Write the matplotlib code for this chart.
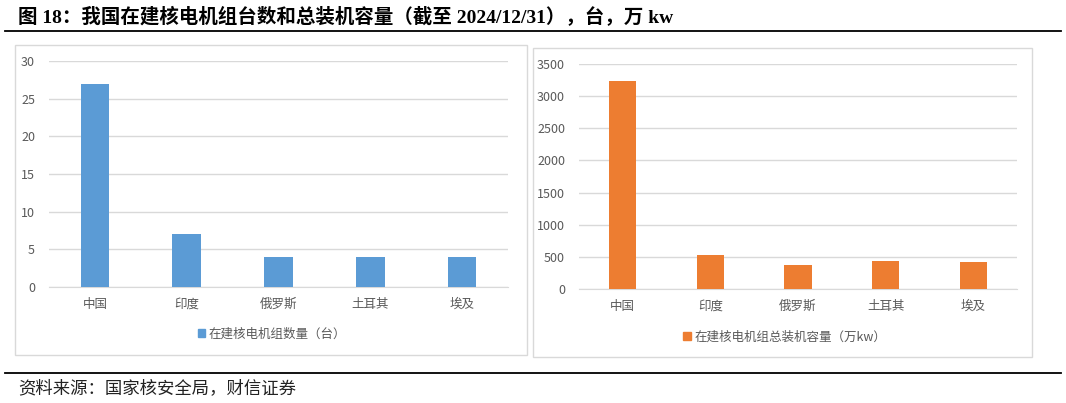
import matplotlib
matplotlib.use('Agg')
from matplotlib import pyplot as plt
from matplotlib.patches import Rectangle, Patch
from matplotlib.lines import Line2D

plt.rcParams['font.family'] = ['Noto Sans CJK SC', 'DejaVu Sans']

countries = ['中国', '印度', '俄罗斯', '土耳其', '埃及']
units = [27, 7, 4, 4, 4]
capacity = [3230, 530, 375, 440, 425]

title = '图 18：我国在建核电机组台数和总装机容量（截至 2024/12/31），台，万 kw'
source = '资料来源：国家核安全局，财信证券'
label_units = '在建核电机组数量（台）'
label_cap = '在建核电机组总装机容量（万kw）'

W, H = 1066, 403
fig = plt.figure(figsize=(W / 100, H / 100), dpi=100)


def fx(px):
    return px / W


def fy(py):
    return 1 - py / H


# title and rules
fig.text(fx(18), fy(17), title, fontsize=14, fontweight='bold', va='center', ha='left',
         family=['Liberation Serif', 'Noto Sans CJK SC'])
fig.add_artist(Line2D([fx(5), fx(1061)], [fy(31), fy(31)], color='black', lw=1.3))
fig.add_artist(Line2D([fx(5), fx(1061)], [fy(373), fy(373)], color='black', lw=1.3))
fig.text(fx(18), fy(388), source, fontsize=12.5, style='italic', va='center', ha='left', color='#222222')

# panel frames
for x0, y0, x1, y1 in [(15, 45, 527, 355), (533, 48, 1032, 357)]:
    fig.add_artist(Rectangle((fx(x0), fy(y1)), fx(x1 - x0), fy(y0) - fy(y1),
                             fill=False, edgecolor='#D9D9D9', lw=1.0))


def panel(box, values, ymax, step, color, label, legend_xy):
    x0, y0, x1, y1 = box
    ax = fig.add_axes([fx(x0), fy(y1), fx(x1 - x0), fy(y0) - fy(y1)])
    xs = range(len(values))
    ax.bar(xs, values, width=0.31, color=color, zorder=3)
    ax.set_xlim(-0.5, len(values) - 0.5)
    ax.set_ylim(0, ymax)
    ax.set_yticks(range(0, ymax + 1, step))
    ax.set_xticks(list(xs))
    ax.set_xticklabels(countries)
    ax.grid(axis='y', color='#D9D9D9', lw=1.0, zorder=0)
    for s in ['top', 'right', 'left']:
        ax.spines[s].set_visible(False)
    ax.spines['bottom'].set_color('#D9D9D9')
    ax.tick_params(axis='both', length=0, labelsize=9, colors='#595959')
    ax.tick_params(axis='x', pad=8)
    ax.tick_params(axis='y', pad=10)
    ax.legend(handles=[Patch(color=color, label=label)], loc='center',
              bbox_to_anchor=(fx(legend_xy[0]), fy(legend_xy[1])), bbox_transform=fig.transFigure,
              frameon=False, fontsize=9, handlelength=0.6, handleheight=0.6,
              handletextpad=0.3, labelcolor='#595959')
    return ax


panel((49, 61, 508, 287), units, 30, 5, '#5B9BD5', label_units, (272, 334))
panel((579, 64, 1017, 289), capacity, 3500, 500, '#ED7D31', label_cap, (785, 337))

fig.savefig('out.png', dpi=100)
